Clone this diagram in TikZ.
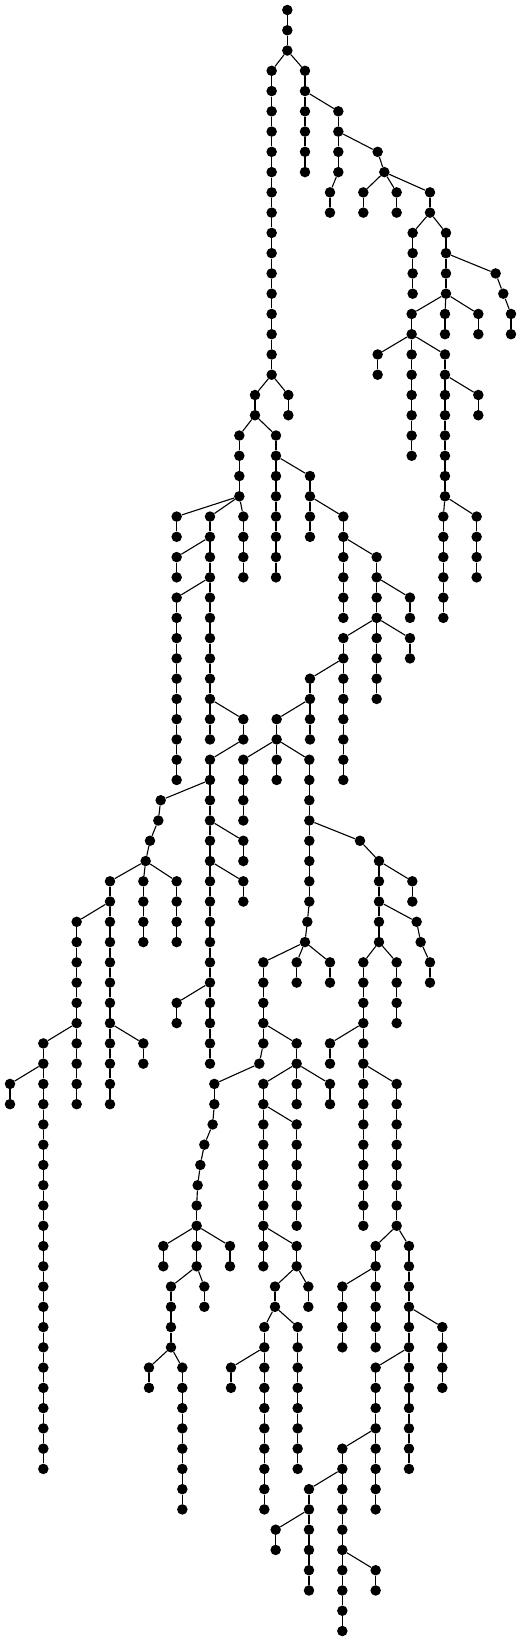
\documentclass[tikz,border=0pt]{standalone}
\tikzset{dot/.style={circle,fill=black,draw=none,inner sep=0pt,minimum size=10.5pt},
 ln/.style={line width=1.1pt,black}}
\newcommand\tcol[3]{%
 \foreach \l in {#2,...,#3}{\node[dot] (n\l x#1) at (#1,\l) {};}%
 \ifnum #3>#2\relax
  \pgfmathtruncatemacro\tcolend{#3-1}%
  \foreach \l in {#2,...,\tcolend}{\pgfmathtruncatemacro\nxt{\l+1}\draw[ln] (n\l x#1) -- (n\nxt x#1);}%
 \fi}
\begin{document}
\begin{tikzpicture}[x=0.333333pt,y=-20.2625pt]
\useasboundingbox (0,-0.49352) rectangle (1566,80.5429);
\tcol{862}{0}{2}
\tcol{815}{3}{18}
\tcol{915}{3}{8}
\tcol{1015}{5}{8}
\tcol{1133}{7}{7}
\tcol{1153}{8}{8}
\tcol{990}{9}{10}
\tcol{1090}{9}{10}
\tcol{1190}{9}{10}
\tcol{1290}{9}{10}
\tcol{1238}{11}{14}
\tcol{1338}{11}{14}
\tcol{1487}{13}{13}
\tcol{1510}{14}{14}
\tcol{1533}{15}{16}
\tcol{1235}{15}{22}
\tcol{1335}{15}{16}
\tcol{1435}{15}{16}
\tcol{1133}{17}{18}
\tcol{1335}{17}{24}
\tcol{1435}{19}{20}
\tcol{1330}{25}{30}
\tcol{1430}{25}{28}
\tcol{765}{19}{20}
\tcol{865}{19}{20}
\tcol{718}{21}{24}
\tcol{828}{21}{28}
\tcol{930}{23}{26}
\tcol{1030}{25}{30}
\tcol{530}{25}{26}
\tcol{630}{25}{26}
\tcol{730}{25}{28}
\tcol{530}{27}{28}
\tcol{630}{27}{28}
\tcol{530}{29}{38}
\tcol{630}{29}{34}
\tcol{1130}{27}{34}
\tcol{1230}{29}{30}
\tcol{1230}{31}{32}
\tcol{1030}{31}{38}
\tcol{930}{33}{36}
\tcol{830}{35}{38}
\tcol{630}{35}{36}
\tcol{730}{35}{36}
\tcol{630}{37}{52}
\tcol{730}{37}{40}
\tcol{928}{37}{44}
\tcol{730}{41}{42}
\tcol{730}{43}{44}
\tcol{482}{39}{39}
\tcol{475}{40}{40}
\tcol{450}{41}{41}
\tcol{437}{42}{42}
\tcol{330}{43}{54}
\tcol{430}{43}{46}
\tcol{530}{43}{46}
\tcol{230}{45}{54}
\tcol{130}{51}{72}
\tcol{30}{53}{54}
\tcol{430}{51}{52}
\tcol{530}{49}{50}
\tcol{1080}{41}{41}
\tcol{1137}{42}{46}
\tcol{1237}{43}{44}
\tcol{922}{45}{45}
\tcol{915}{46}{46}
\tcol{1250}{45}{45}
\tcol{1262}{46}{46}
\tcol{1290}{47}{48}
\tcol{790}{47}{51}
\tcol{890}{47}{48}
\tcol{990}{47}{48}
\tcol{1090}{47}{60}
\tcol{1190}{47}{50}
\tcol{890}{51}{54}
\tcol{990}{51}{52}
\tcol{778}{52}{52}
\tcol{643}{53}{54}
\tcol{638}{55}{55}
\tcol{613}{56}{56}
\tcol{601}{57}{57}
\tcol{593}{58}{58}
\tcol{590}{59}{62}
\tcol{790}{53}{62}
\tcol{990}{53}{54}
\tcol{1190}{53}{60}
\tcol{890}{55}{60}
\tcol{490}{61}{62}
\tcol{690}{61}{62}
\tcol{890}{61}{62}
\tcol{513}{63}{66}
\tcol{613}{63}{64}
\tcol{447}{67}{68}
\tcol{547}{67}{74}
\tcol{825}{63}{64}
\tcol{925}{63}{64}
\tcol{793}{65}{74}
\tcol{893}{65}{72}
\tcol{693}{67}{68}
\tcol{1127}{61}{66}
\tcol{1027}{63}{66}
\tcol{1227}{61}{72}
\tcol{1327}{65}{68}
\tcol{1127}{67}{74}
\tcol{1027}{71}{80}
\tcol{927}{73}{78}
\tcol{827}{75}{76}
\tcol{1127}{77}{78}
\foreach \a/\b/\c/\d in {2/862/3/815, 2/862/3/915,
 4/915/5/1015, 6/1015/7/1133, 8/1015/9/990, 7/1133/8/1153,
 8/1153/9/1090, 8/1153/9/1190, 8/1153/9/1290,
 10/1290/11/1238, 10/1290/11/1338,
 12/1338/13/1487, 13/1487/14/1510, 14/1510/15/1533,
 14/1338/15/1235, 14/1338/15/1335, 14/1338/15/1435,
 16/1235/17/1133, 16/1235/17/1335,
 18/1335/19/1435,
 24/1335/25/1330, 24/1335/25/1430,
 18/815/19/765, 18/815/19/865,
 20/765/21/718, 20/765/21/828,
 22/828/23/930, 24/930/25/1030,
 24/718/25/530, 24/718/25/630, 24/718/25/730,
 26/630/27/530, 26/630/27/630,
 28/630/29/530, 28/630/29/630,
 26/1030/27/1130, 28/1130/29/1230,
 30/1130/31/1030, 30/1130/31/1230,
 32/1030/33/930, 34/930/35/830,
 34/630/35/630, 34/630/35/730,
 36/730/37/630,
 36/830/37/730, 36/830/37/928,
 38/630/39/482, 39/482/40/475, 40/475/41/450, 41/450/42/437,
 42/437/43/330, 42/437/43/430, 42/437/43/530,
 44/330/45/230, 50/230/51/130, 52/130/53/30, 50/330/51/430,
 40/630/41/730, 42/630/43/730, 48/630/49/530,
 40/928/41/1080, 44/928/45/922, 45/922/46/915,
 46/915/47/790, 46/915/47/890, 46/915/47/990,
 41/1080/42/1137, 42/1137/43/1237,
 44/1137/45/1250, 45/1250/46/1262, 46/1262/47/1290,
 46/1137/47/1090, 46/1137/47/1190,
 50/790/51/890, 51/790/52/778, 52/778/53/643,
 52/890/53/790, 52/890/53/990,
 54/643/55/638, 55/638/56/613, 56/613/57/601, 57/601/58/593, 58/593/59/590,
 50/1090/51/990, 52/1090/53/1190,
 54/790/55/890,
 60/590/61/490, 60/590/61/690,
 60/790/61/890,
 62/590/63/513, 62/590/63/613,
 66/513/67/447, 66/513/67/547,
 62/890/63/825, 62/890/63/925,
 64/825/65/793, 64/825/65/893,
 66/793/67/693,
 60/1190/61/1127, 60/1190/61/1227,
 62/1127/63/1027,
 64/1227/65/1327, 66/1227/67/1127,
 70/1127/71/1027, 72/1027/73/927, 74/927/75/827, 76/1027/77/1127}
 {\draw[ln] (n\a x\b) -- (n\c x\d);}
\end{tikzpicture}
\end{document}
